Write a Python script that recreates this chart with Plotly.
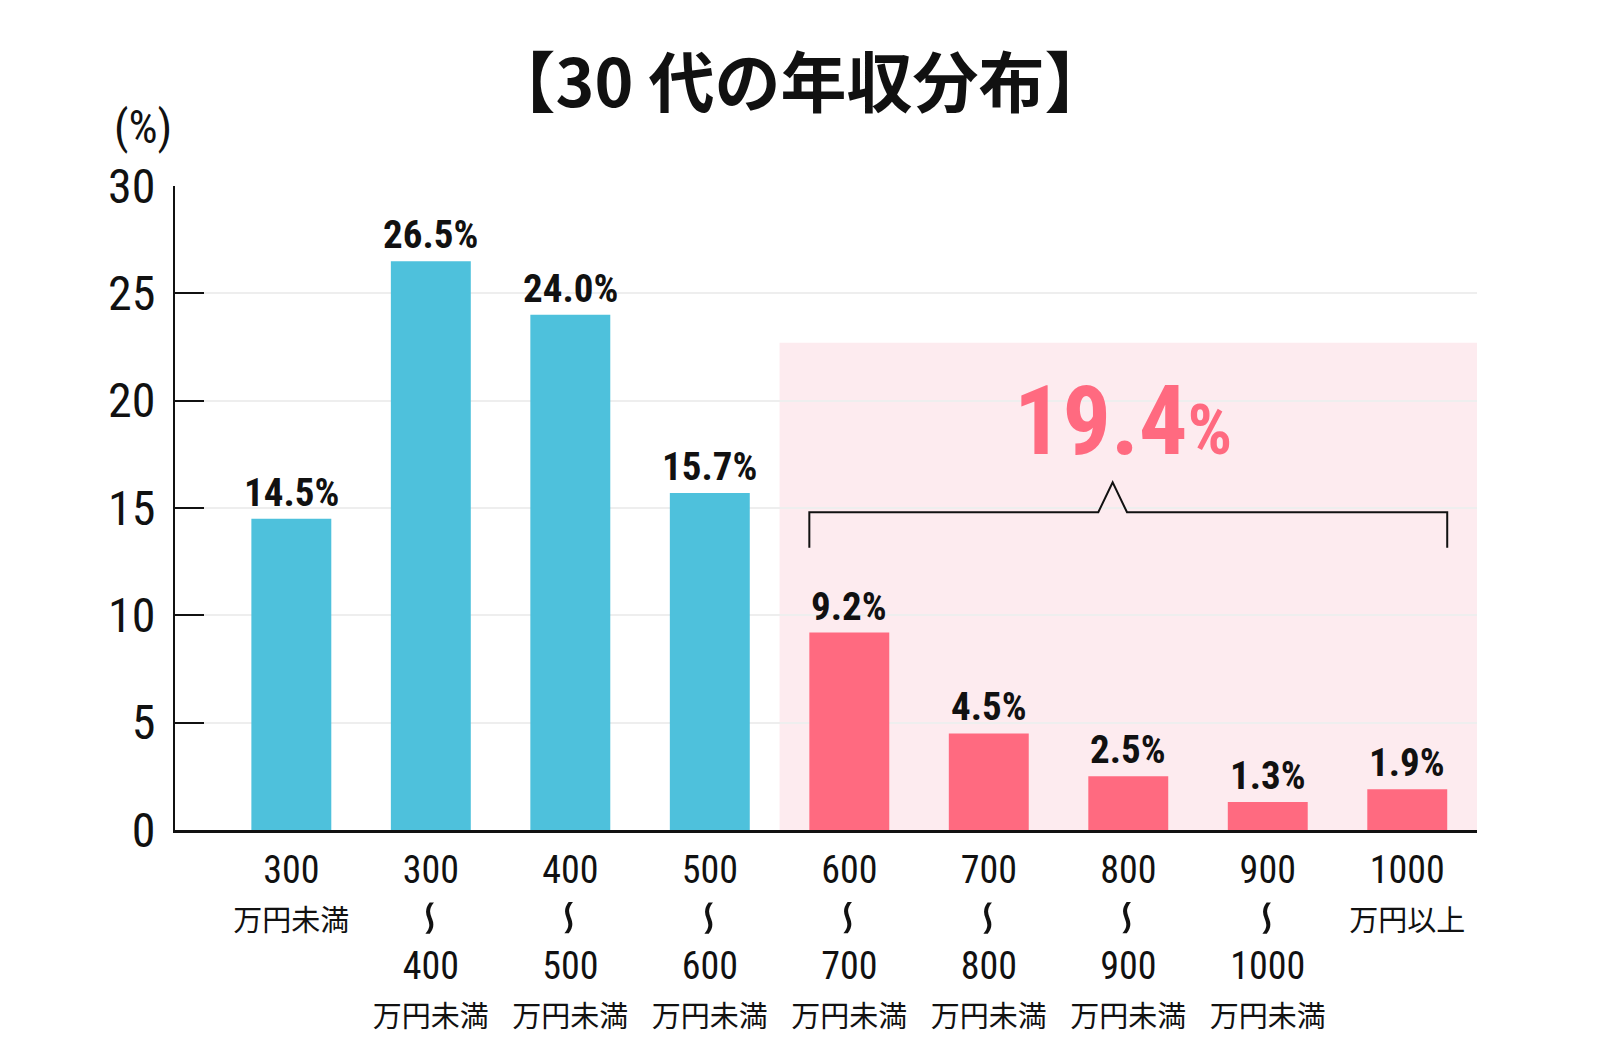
import plotly.graph_objects as go

# ---- data ----
range_from = ["300", "300", "400", "500", "600", "700", "800", "900", "1000"]
range_to = [None, "400", "500", "600", "700", "800", "900", "1000", None]
unit_text = ["万円未満", "万円未満", "万円未満", "万円未満", "万円未満", "万円未満", "万円未満", "万円未満", "万円以上"]
share = [14.5, 26.5, 24.0, 15.7, 9.2, 4.5, 2.5, 1.3, 1.9]
highlight_start = 4  # 600万円以上 group
y_ticks = [0, 5, 10, 15, 20, 25, 30]

BLUE = "#4ec1dc"
PINK = "#ff6a80"
PINK_BG = "#fdebef"
NUM_FONT = "Roboto, Noto Sans CJK JP"
JP_FONT = "Noto Sans CJK JP"
INK = "#111111"

x = list(range(len(share)))
colors = [BLUE if i < highlight_start else PINK for i in x]


def cond(s, weight=400, size=None):
    st = f"font-family:Roboto;font-stretch:condensed;font-weight:{weight}"
    if size:
        st += f";font-size:{size}px"
    return f"<span style='{st}'>{s}</span>"


def jp(s, size=29):
    return f"<span style='font-family:{JP_FONT};font-size:{size}px'>{s}</span>"


ticktext = []
for lo, hi, u in zip(range_from, range_to, unit_text):
    if hi is None:
        ticktext.append(f"{cond(lo, 400, 38)}<br>{jp(u)}")
    else:
        ticktext.append(f"{cond(lo, 400, 38)}<br>\u00a0<br>{cond(hi, 400, 38)}<br>{jp(u)}")

bar_width = 0.573
fig = go.Figure()
fig.add_trace(go.Bar(
    x=x, y=share, marker=dict(color=colors, line=dict(width=0)),
    width=bar_width, hoverinfo="skip",
))

PW = 1600 - 175 - 123
PH = 1060 - 186 - 230

# range wave marks (rotated reversed tilde)
for i, hi in zip(x, range_to):
    if hi is not None:
        fig.add_annotation(x=i, y=-(918 - 830) / PH, xref="x", yref="paper", showarrow=False,
                           text="∽", textangle=90, xanchor="center", yanchor="middle",
                           font=dict(family="DejaVu Sans", size=50, color=INK))

# value labels
for i, v in zip(x, share):
    fig.add_annotation(
        x=i, y=v, xref="x", yref="y", text=cond(f"{v:.1f}%", 700), showarrow=False,
        yanchor="bottom", yshift=1, font=dict(family=NUM_FONT, size=39, color=INK),
    )

# highlighted region
n = len(share)
fig.add_shape(type="rect", xref="x", yref="y", x0=highlight_start - 0.5, x1=n - 0.5,
              y0=0, y1=22.7, fillcolor=PINK_BG, line=dict(width=0), layer="below")

# brace
bl = highlight_start - bar_width / 2
br = (n - 1) + bar_width / 2
bm = 5.888
by, bt, bb = 14.8, 16.2, 13.15
fig.add_shape(type="path", xref="x", yref="y",
              path=f"M {bl},{bb} L {bl},{by} L {bm-0.103},{by} L {bm},{bt} L {bm+0.103},{by} L {br},{by} L {br},{bb}",
              line=dict(color=INK, width=2), layer="above")

total = round(sum(share[highlight_start:]), 1)
fig.add_annotation(x=5.96, y=19.03, xref="x", yref="y", showarrow=False,
                   text=cond(f"{total}", 700, 96) + cond("%", 700, 70),
                   font=dict(family=NUM_FONT, size=96, color=PINK))

fig.add_annotation(x=(143 - 175) / PW, y=(1060 - 127 - 230) / PH, xref="paper", yref="paper",
                   showarrow=False, xanchor="center", yanchor="middle",
                   text=cond("(%)", 400), font=dict(family=NUM_FONT, size=46, color=INK))

fig.update_layout(
    width=1600, height=1060, autosize=False,
    margin=dict(l=175, r=123, t=186, b=230, pad=0),
    paper_bgcolor="white", plot_bgcolor="white",
    showlegend=False,
    title=dict(text="<b>【30 代の年収分布】</b>", x=0.5, xref="container", y=1 - 84 / 1060,
               yref="container", xanchor="center", yanchor="middle",
               font=dict(family=JP_FONT, size=66, color=INK)),
    bargap=0.427,
)

fig.update_xaxes(
    range=[-0.834, 8.5], tickmode="array", tickvals=x, ticktext=ticktext,
    showgrid=False, zeroline=False, showline=True, linecolor=INK, linewidth=2.5,
    ticks="", tickfont=dict(family=NUM_FONT, size=37, color=INK), ticklabelstandoff=6,
)
fig.update_yaxes(
    range=[0, 30], tickmode="array", tickvals=y_ticks, ticktext=[cond(str(t), 400) for t in y_ticks],
    showgrid=True, gridcolor="#eeeeee", gridwidth=2, zeroline=False,
    showline=True, linecolor=INK, linewidth=2,
    ticks="inside", ticklen=29, tickwidth=2, tickcolor=INK,
    tickfont=dict(family=NUM_FONT, size=48, color=INK), ticklabelstandoff=8,
)

fig.write_html("out.html")
